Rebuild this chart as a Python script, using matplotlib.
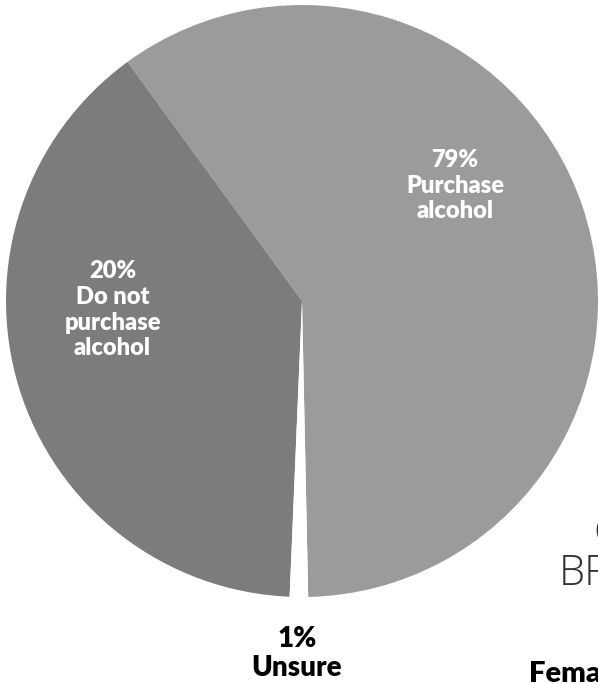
"""Recreate the scanned 'purchase alcohol' pie graphic as out.png."""

import matplotlib
matplotlib.use("Agg")
import matplotlib.pyplot as plt

# --------------------------------------------------------------------------- #
# Data
# --------------------------------------------------------------------------- #
categories = ["Purchase\nalcohol", "Do not\npurchase\nalcohol", "Unsure"]
pct_labels = [79, 20, 1]
# wedge sizes as actually drawn in the source graphic (it is not to scale)
wedge_size = [59.7, 39.3, 1.0]

LIGHT = "#9b9b9b"
DARK = "#7c7c7c"
GAP = "white"

W, H = 598, 684
fig = plt.figure(figsize=(W / 100, H / 100), dpi=100)
fig.patch.set_facecolor("white")

# pie axes placed in pixel terms: centre (302, 301 from top), radius 296
cx, cy, r = 302, 301, 296
ax = fig.add_axes([(cx - r) / W, (H - cy - r) / H, 2 * r / W, 2 * r / H])
ax.pie(wedge_size, colors=[LIGHT, DARK, GAP], startangle=271.2,
       counterclock=True, wedgeprops=dict(linewidth=0))
ax.set_xlim(-1, 1)
ax.set_ylim(-1, 1)
ax.set_aspect("equal")
ax.axis("off")

FONT = ["Lato", "DejaVu Sans"]

ax.text(0.517, 0.39, f"{pct_labels[0]}%\n{categories[0]}", color="white",
        ha="center", va="center", fontsize=17, fontweight="heavy",
        family=FONT, linespacing=1.2)
ax.text(-0.64, -0.03, f"{pct_labels[1]}%\n{categories[1]}", color="white",
        ha="center", va="center", fontsize=17, fontweight="heavy",
        family=FONT, linespacing=1.2)
ax.text(-0.017, -1.19, f"{pct_labels[2]}%\n{categories[2]}", color="black",
        ha="center", va="center", fontsize=20, fontweight="heavy",
        family=FONT, linespacing=1.15)

# fragments of the neighbouring panel, cut off by the scan edge
fig.text(593 / W, (H - 545) / H, "C", fontsize=30, color="#333333",
         fontweight="light", family=["Open Sans", "DejaVu Sans"])
fig.text(559 / W, (H - 585) / H, "BRANDS", fontsize=30, color="#333333",
         fontweight="light", family=["Open Sans", "DejaVu Sans"])
fig.text(529 / W, 2 / H, "Female", fontsize=21, color="black",
         fontweight="heavy", family=FONT)

fig.savefig("out.png", dpi=100)
